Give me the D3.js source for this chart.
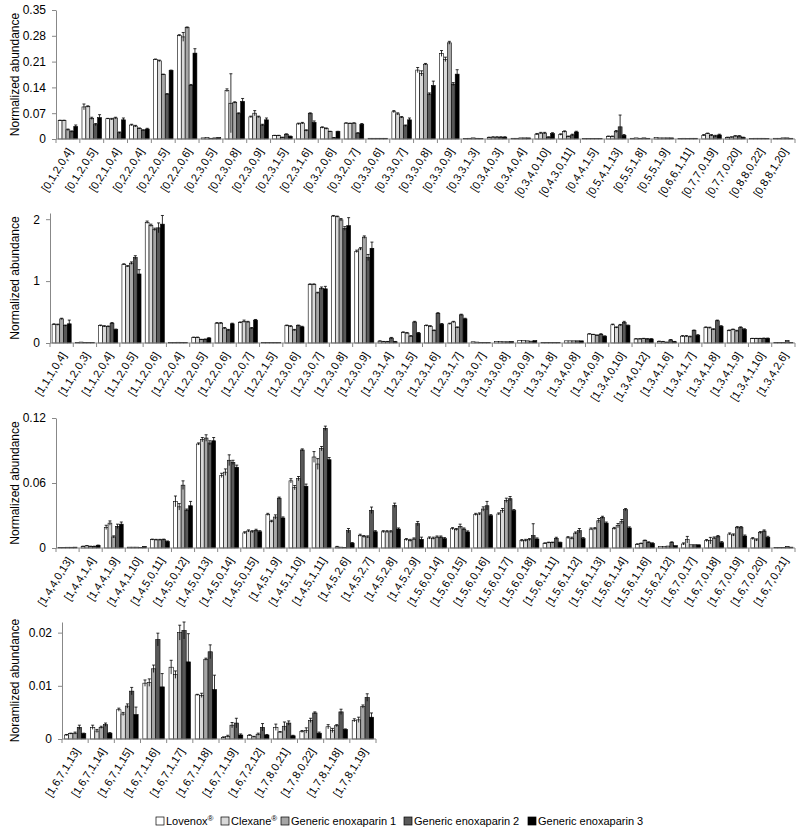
<!DOCTYPE html>
<html lang="en">
<head>
    <meta charset="UTF-8">
    <title>Normalized abundance</title>
    <script src="https://d3js.org/d3.v7.min.js"></script>
    <style>
        body { margin: 0; background: #fff; }
        svg { font-family: Arial, "Liberation Sans", sans-serif; }
        .bar { stroke: #000; stroke-width: 0.6; }
        .err { stroke: #000; stroke-width: 0.8; }
        .axis path, .axis line { stroke: #888; }
        .axis text { font-size: 12px; fill: #000; }
        .cat { font-size: 11px; }
        .ytitle { font-size: 12px; }
        .legend text { font-size: 11px; }
    </style>
</head>
<body>
<svg height="833" width="800"></svg>

<script>
    const series = ["Lovenox", "Clexane", "Generic enoxaparin 1", "Generic enoxaparin 2", "Generic enoxaparin 3"];
    const colors = ["#ffffff", "#d9d9d9", "#a6a6a6", "#595959", "#000000"];

    // ---- panel 1 ----
    const p1Labels = ["[0,1,2,0,4]", "[0,1,2,0,5]", "[0,2,1,0,4]", "[0,2,2,0,4]", "[0,2,2,0,5]", "[0,2,2,0,6]",
        "[0,2,3,0,5]", "[0,2,3,0,8]", "[0,2,3,0,9]", "[0,2,3,1,5]", "[0,2,3,1,6]", "[0,3,2,0,6]", "[0,3,2,0,7]",
        "[0,3,3,0,6]", "[0,3,3,0,7]", "[0,3,3,0,8]", "[0,3,3,0,9]", "[0,3,3,1,3]", "[0,3,4,0,3]", "[0,3,4,0,4]",
        "[0,3,4,0,10]", "[0,4,3,0,11]", "[0,4,4,1,5]", "[0,5,4,1,13]", "[0,5,5,1,8]", "[0,5,5,1,9]",
        "[0,6,6,1,11]", "[0,7,7,0,19]", "[0,7,7,0,20]", "[0,8,8,0,22]", "[0,8,8,1,20]"];
    const p1Values = [
        [0.050, 0.050, 0.025, 0.020, 0.034], [0.087, 0.088, 0.056, 0.039, 0.058], [0.055, 0.054, 0.057, 0.017, 0.052],
        [0.038, 0.035, 0.029, 0.024, 0.027], [0.216, 0.212, 0.175, 0.122, 0.186], [0.281, 0.277, 0.302, 0.146, 0.233],
        [0.003, 0.004, 0.002, 0.003, 0.004], [0.132, 0.097, 0.099, 0.069, 0.102], [0.060, 0.070, 0.060, 0.038, 0.052],
        [0.009, 0.009, 0.004, 0.013, 0.007], [0.041, 0.043, 0.023, 0.069, 0.045], [0.031, 0.028, 0.020, 0.003, 0.020],
        [0.043, 0.042, 0.043, 0.016, 0.040], [0.002, 0.002, 0.002, 0.002, 0.002], [0.074, 0.068, 0.059, 0.036, 0.052],
        [0.187, 0.178, 0.203, 0.122, 0.145], [0.232, 0.216, 0.261, 0.149, 0.176], [0.001, 0.002, 0.003, 0.002, 0.001],
        [0.004, 0.005, 0.005, 0.005, 0.005], [0.002, 0.002, 0.003, 0.003, 0.003], [0.013, 0.016, 0.016, 0.005, 0.015],
        [0.012, 0.020, 0.007, 0.011, 0.019], [0.001, 0.001, 0.001, 0.001, 0.001], [0.007, 0.007, 0.020, 0.033, 0.010],
        [0.002, 0.003, 0.002, 0.003, 0.002], [0.004, 0.003, 0.003, 0.003, 0.003], [0.001, 0.002, 0.001, 0.002, 0.002],
        [0.010, 0.015, 0.010, 0.008, 0.011], [0.004, 0.005, 0.008, 0.008, 0.004], [0.001, 0.002, 0.002, 0.002, 0.001],
        [0.002, 0.002, 0.003, 0.003, 0.002]];
    const p1Errors = [
        [0.001, 0.001, 0.002, 0.002, 0.004], [0.008, 0.002, 0.003, 0.003, 0.008], [0.001, 0.002, 0.002, 0.002, 0.005],
        [0.002, 0.002, 0.001, 0.001, 0.002], [0.001, 0.002, 0.001, 0.001, 0.001], [0.002, 0.012, 0.002, 0.002, 0.012],
        [0, 0, 0, 0, 0], [0.004, 0.080, 0.002, 0.002, 0.008], [0.002, 0.007, 0.002, 0.002, 0.005],
        [0.001, 0.001, 0.001, 0.001, 0.001], [0.002, 0.002, 0.002, 0.002, 0.004], [0.002, 0.002, 0.001, 0.001, 0.001],
        [0.001, 0.001, 0.001, 0.001, 0.002], [0, 0, 0, 0, 0], [0.003, 0.003, 0.002, 0.002, 0.005],
        [0.007, 0.007, 0.002, 0.003, 0.012], [0.008, 0.006, 0.004, 0.004, 0.012], [0, 0, 0, 0, 0],
        [0.001, 0.001, 0.001, 0.001, 0.001], [0, 0, 0, 0, 0], [0.002, 0.002, 0.002, 0.001, 0.002],
        [0.002, 0.002, 0.001, 0.002, 0.002], [0, 0, 0, 0, 0], [0.001, 0.001, 0.003, 0.032, 0.002],
        [0, 0, 0, 0, 0], [0, 0, 0, 0, 0], [0, 0, 0, 0, 0],
        [0.002, 0.001, 0.002, 0.002, 0.002], [0.001, 0.001, 0.001, 0.001, 0.001], [0, 0, 0, 0, 0], [0, 0, 0, 0, 0]];
    const p1Ticks = [0, 0.07, 0.14, 0.21, 0.28, 0.35];

    // ---- panel 2 ----
    const p2Labels = ["[1,1,1,0,4]", "[1,1,2,0,3]", "[1,1,2,0,4]", "[1,1,2,0,5]", "[1,1,2,0,6]", "[1,2,2,0,4]",
        "[1,2,2,0,5]", "[1,2,2,0,6]", "[1,2,2,0,7]", "[1,2,2,1,5]", "[1,2,3,0,6]", "[1,2,3,0,7]", "[1,2,3,0,8]",
        "[1,2,3,0,9]", "[1,2,3,1,4]", "[1,2,3,1,5]", "[1,2,3,1,6]", "[1,2,3,1,7]", "[1,3,3,0,7]", "[1,3,3,0,8]",
        "[1,3,3,0,9]", "[1,3,3,1,8]", "[1,3,4,0,8]", "[1,3,4,0,9]", "[1,3,4,0,10]", "[1,3,4,0,12]", "[1,3,4,1,6]",
        "[1,3,4,1,7]", "[1,3,4,1,8]", "[1,3,4,1,9]", "[1,3,4,1,10]", "[1,3,4,2,6]"];
    const p2Values = [
        [0.30, 0.295, 0.39, 0.28, 0.31], [0.01, 0.015, 0.01, 0.005, 0.005], [0.28, 0.27, 0.265, 0.32, 0.215],
        [1.27, 1.24, 1.29, 1.38, 1.115], [1.95, 1.90, 1.835, 1.86, 1.92], [0.005, 0.005, 0.012, 0.01, 0.005],
        [0.09, 0.09, 0.055, 0.06, 0.08], [0.32, 0.32, 0.24, 0.21, 0.31], [0.33, 0.35, 0.34, 0.24, 0.37],
        [0.005, 0.005, 0.005, 0.005, 0.005], [0.28, 0.27, 0.21, 0.28, 0.26], [0.945, 0.945, 0.81, 0.885, 0.875],
        [2.05, 2.04, 1.99, 1.85, 1.895], [1.48, 1.52, 1.71, 1.38, 1.53], [0.03, 0.02, 0.02, 0.08, 0.02],
        [0.17, 0.16, 0.11, 0.34, 0.16], [0.28, 0.27, 0.20, 0.48, 0.305], [0.31, 0.34, 0.25, 0.455, 0.39],
        [0.02, 0.015, 0.01, 0.01, 0.01], [0.025, 0.025, 0.02, 0.02, 0.025], [0.04, 0.04, 0.035, 0.03, 0.04],
        [0.01, 0.01, 0.01, 0.01, 0.01], [0.035, 0.035, 0.035, 0.035, 0.035], [0.145, 0.135, 0.125, 0.14, 0.11],
        [0.295, 0.25, 0.29, 0.33, 0.28], [0.065, 0.065, 0.07, 0.065, 0.065], [0.025, 0.02, 0.01, 0.05, 0.02],
        [0.11, 0.11, 0.10, 0.20, 0.125], [0.25, 0.245, 0.22, 0.36, 0.27], [0.20, 0.215, 0.195, 0.25, 0.22],
        [0.07, 0.07, 0.07, 0.075, 0.075], [0.005, 0.005, 0.005, 0.04, 0.01]];
    const p2Errors = [
        [0.01, 0.01, 0.01, 0.01, 0.06], [0, 0, 0, 0, 0], [0.01, 0.01, 0.01, 0.01, 0.01],
        [0.01, 0.01, 0.02, 0.03, 0.07], [0.02, 0.02, 0.02, 0.08, 0.14], [0, 0, 0, 0, 0],
        [0.005, 0.005, 0.005, 0.005, 0.005], [0.01, 0.01, 0.01, 0.01, 0.01], [0.01, 0.02, 0.01, 0.01, 0.01],
        [0, 0, 0, 0, 0], [0.01, 0.01, 0.01, 0.01, 0.01], [0.01, 0.01, 0.01, 0.02, 0.04],
        [0.01, 0.01, 0.02, 0.03, 0.13], [0.02, 0.02, 0.02, 0.05, 0.1], [0.005, 0.005, 0.005, 0.01, 0.005],
        [0.01, 0.01, 0.01, 0.01, 0.01], [0.01, 0.01, 0.01, 0.01, 0.01], [0.01, 0.01, 0.01, 0.01, 0.01],
        [0, 0, 0, 0, 0], [0, 0, 0, 0, 0], [0, 0, 0, 0, 0], [0, 0, 0, 0, 0], [0, 0, 0, 0, 0],
        [0.005, 0.005, 0.005, 0.01, 0.005], [0.01, 0.01, 0.01, 0.02, 0.01], [0.005, 0.005, 0.005, 0.005, 0.005],
        [0.005, 0.005, 0.005, 0.005, 0.005], [0.01, 0.01, 0.01, 0.01, 0.01], [0.01, 0.01, 0.01, 0.01, 0.01],
        [0.01, 0.01, 0.01, 0.01, 0.01], [0.005, 0.005, 0.005, 0.005, 0.005], [0, 0, 0, 0, 0]];
    const p2Ticks = [0, 1, 2];

    // ---- panel 3 ----
    const p3Labels = ["[1,4,4,0,13]", "[1,4,4,1,4]", "[1,4,4,1,9]", "[1,4,4,1,10]", "[1,4,5,0,11]", "[1,4,5,0,12]",
        "[1,4,5,0,13]", "[1,4,5,0,14]", "[1,4,5,0,15]", "[1,4,5,1,9]", "[1,4,5,1,10]", "[1,4,5,1,11]", "[1,4,5,2,6]",
        "[1,4,5,2,7]", "[1,4,5,2,8]", "[1,4,5,2,9]", "[1,5,6,0,14]", "[1,5,6,0,15]", "[1,5,6,0,16]", "[1,5,6,0,17]",
        "[1,5,6,0,18]", "[1,5,6,1,11]", "[1,5,6,1,12]", "[1,5,6,1,13]", "[1,5,6,1,14]", "[1,5,6,1,16]",
        "[1,5,6,2,12]", "[1,6,7,0,17]", "[1,6,7,0,18]", "[1,6,7,0,19]", "[1,6,7,0,20]", "[1,6,7,0,21]"];
    const p3Values = [
        [0.0005, 0.0005, 0.0007, 0.0007, 0.0008], [0.0015, 0.002, 0.0015, 0.0015, 0.0025],
        [0.019, 0.023, 0.0102, 0.020, 0.022], [0.0008, 0.0008, 0.0008, 0.0006, 0.0015],
        [0.0077, 0.0075, 0.0075, 0.0077, 0.006], [0.043, 0.038, 0.058, 0.035, 0.039],
        [0.096, 0.100, 0.1015, 0.097, 0.099], [0.067, 0.070, 0.081, 0.079, 0.0745],
        [0.014, 0.0157, 0.015, 0.0163, 0.015], [0.031, 0.0246, 0.0286, 0.046, 0.0277],
        [0.062, 0.0557, 0.064, 0.0905, 0.057], [0.084, 0.0775, 0.0917, 0.1105, 0.0815],
        [0.001, 0.0008, 0.0006, 0.016, 0.0045], [0.0117, 0.0105, 0.0102, 0.0348, 0.015],
        [0.015, 0.015, 0.015, 0.0394, 0.0175], [0.0077, 0.007, 0.0083, 0.0225, 0.008],
        [0.0092, 0.009, 0.0101, 0.0101, 0.0086], [0.0178, 0.017, 0.020, 0.0175, 0.0148],
        [0.031, 0.0314, 0.036, 0.039, 0.0298], [0.0314, 0.0345, 0.044, 0.0455, 0.0345],
        [0.0068, 0.007, 0.0077, 0.0114, 0.0083], [0.0043, 0.0049, 0.0049, 0.0089, 0.0049],
        [0.0095, 0.009, 0.0138, 0.016, 0.0086], [0.0175, 0.0178, 0.0252, 0.0283, 0.023],
        [0.018, 0.0206, 0.0243, 0.0354, 0.0185], [0.0034, 0.004, 0.0068, 0.0052, 0.0043],
        [0.0015, 0.0015, 0.0018, 0.0052, 0.0022], [0.0037, 0.0077, 0.003, 0.003, 0.003],
        [0.0068, 0.0068, 0.0092, 0.0105, 0.0049], [0.0129, 0.012, 0.0188, 0.0188, 0.011],
        [0.0086, 0.0074, 0.0142, 0.0157, 0.0098], [0.0003, 0.0003, 0.0005, 0.0015, 0.0008]];
    const p3Errors = [
        [0, 0, 0, 0, 0], [0.0002, 0.0002, 0.0002, 0.0002, 0.0002], [0.002, 0.002, 0.001, 0.002, 0.002],
        [0, 0, 0, 0, 0], [0.0005, 0.0005, 0.0005, 0.0005, 0.0005], [0.005, 0.003, 0.004, 0.001, 0.004],
        [0.001, 0.002, 0.003, 0.002, 0.003], [0.002, 0.003, 0.005, 0.002, 0.002], [0.001, 0.001, 0.001, 0.001, 0.001],
        [0.001, 0.001, 0.002, 0.001, 0.001], [0.002, 0.002, 0.002, 0.001, 0.002], [0.005, 0.005, 0.002, 0.002, 0.002],
        [0.0005, 0, 0, 0.002, 0.0005], [0.001, 0.001, 0.001, 0.003, 0.001], [0.001, 0.001, 0.001, 0.002, 0.001],
        [0.001, 0.001, 0.001, 0.002, 0.002], [0.001, 0.001, 0.001, 0.001, 0.001], [0.001, 0.001, 0.002, 0.001, 0.001],
        [0.001, 0.001, 0.002, 0.004, 0.001], [0.001, 0.002, 0.002, 0.002, 0.001], [0.001, 0.001, 0.001, 0.011, 0.001],
        [0.0005, 0.0005, 0.0005, 0.001, 0.0005], [0.001, 0.001, 0.001, 0.002, 0.001], [0.001, 0.001, 0.002, 0.001, 0.001],
        [0.001, 0.002, 0.002, 0.001, 0.001], [0.0005, 0.0005, 0.0005, 0.0005, 0.0005], [0, 0, 0, 0.0005, 0],
        [0.001, 0.003, 0, 0, 0], [0.001, 0.003, 0.001, 0.001, 0.001], [0.001, 0.001, 0.001, 0.001, 0.001],
        [0.001, 0.001, 0.001, 0.001, 0.001], [0, 0, 0, 0, 0]];
    const p3Ticks = [0, 0.06, 0.12];

    // ---- panel 4 ----
    const p4Labels = ["[1,6,7,1,13]", "[1,6,7,1,14]", "[1,6,7,1,15]", "[1,6,7,1,16]", "[1,6,7,1,17]", "[1,6,7,1,18]",
        "[1,6,7,1,19]", "[1,6,7,2,12]", "[1,7,8,0,21]", "[1,7,8,0,22]", "[1,7,8,1,18]", "[1,7,8,1,19]"];
    const p4Values = [
        [0.00075, 0.001, 0.0011, 0.0022, 0.001], [0.0022, 0.0015, 0.0022, 0.0027, 0.0011],
        [0.0055, 0.0047, 0.0062, 0.009, 0.0046], [0.0105, 0.0106, 0.0132, 0.0187, 0.0098],
        [0.0135, 0.0121, 0.0200, 0.0204, 0.0145], [0.0083, 0.0082, 0.0150, 0.0164, 0.0093],
        [0.0003, 0.0005, 0.0026, 0.0030, 0.00075], [0.0007, 0.0004, 0.0009, 0.0022, 0.00075],
        [0.0022, 0.0013, 0.0024, 0.0030, 0.0006], [0.0014, 0.0016, 0.0035, 0.0049, 0.0011],
        [0.0023, 0.0016, 0.0025, 0.0051, 0.0018], [0.0035, 0.0036, 0.0061, 0.0078, 0.0041]];
    const p4Errors = [
        [0.0001, 0.0001, 0.0002, 0.0004, 0.0001], [0.0004, 0.0003, 0.0002, 0.0003, 0.0001],
        [0.0003, 0.0003, 0.0004, 0.0007, 0.0014], [0.0006, 0.0007, 0.0007, 0.0012, 0.0025],
        [0.0013, 0.0007, 0.0014, 0.0016, 0.0053], [0.0001, 0.0004, 0.0002, 0.0013, 0.0027],
        [0.0001, 0.0002, 0.0005, 0.0009, 0.0002], [0.0001, 0.0001, 0.0002, 0.0007, 0.0001],
        [0.0006, 0.0001, 0.0008, 0.0004, 0.0001], [0.0002, 0.0005, 0.0004, 0.0002, 0.0002],
        [0.0004, 0.0004, 0.0002, 0.0005, 0.0001], [0.0003, 0.0005, 0.0003, 0.0007, 0.0008]];
    const p4Ticks = [0, 0.01, 0.02];

    const svg = d3.select("svg");
    svg.append("rect").attr("width", 800).attr("height", 833).attr("fill", "#fff");

    const panels = [
        {labels: p1Labels, values: p1Values, errors: p1Errors, ticks: p1Ticks, max: 0.35,
            left: 56, right: 795, top: 10, bottom: 139, title: "Normalized abundance"},
        {labels: p2Labels, values: p2Values, errors: p2Errors, ticks: p2Ticks, max: 2.1,
            left: 50, right: 795, top: 213, bottom: 343, title: "Normalized abundance"},
        {labels: p3Labels, values: p3Values, errors: p3Errors, ticks: p3Ticks, max: 0.12,
            left: 56, right: 795, top: 418, bottom: 548, title: "Normalized abundance"},
        {labels: p4Labels, values: p4Values, errors: p4Errors, ticks: p4Ticks, max: 0.022,
            left: 62, right: 376, top: 622, bottom: 739, title: "Noramlized abundance"}
    ];

    panels.forEach(drawPanel);

    function drawPanel(p) {
        const g = svg.append("g");
        const x = d3.scaleBand().domain(p.labels).range([p.left, p.right]).padding(0);
        const bw = x.bandwidth();
        const xs = d3.scaleBand().domain(d3.range(series.length)).range([bw * 0.09, bw * 0.91]).padding(0);
        const y = d3.scaleLinear().domain([0, p.max]).range([p.bottom, p.top]);

        // y axis
        const yAxis = g.append("g").attr("class", "axis")
            .attr("transform", `translate(${p.left},0)`)
            .call(d3.axisLeft(y).tickValues(p.ticks).tickSize(4).tickSizeOuter(0).tickPadding(6)
                .tickFormat(d => String(d)));

        // bars
        const cats = g.selectAll(".catg")
            .data(p.labels)
            .enter().append("g")
            .attr("transform", d => `translate(${x(d)},0)`);

        cats.each(function(label, ci) {
            const cg = d3.select(this);
            const rows = series.map((s, si) => ({si: si, v: p.values[ci][si], e: p.errors[ci][si]}));
            cg.selectAll("rect")
                .data(rows)
                .enter().append("rect")
                .attr("class", "bar")
                .attr("x", d => xs(d.si))
                .attr("width", xs.bandwidth())
                .attr("y", d => y(d.v))
                .attr("height", d => y(0) - y(d.v))
                .attr("fill", d => colors[d.si]);

            const eb = cg.selectAll(".eb")
                .data(rows.filter(d => d.e > 0))
                .enter().append("g").attr("class", "eb");
            const cx = d => xs(d.si) + xs.bandwidth() / 2;
            eb.append("line").attr("class", "err")
                .attr("x1", cx).attr("x2", cx)
                .attr("y1", d => y(Math.max(0, d.v - d.e))).attr("y2", d => y(d.v + d.e));
            eb.append("line").attr("class", "err")
                .attr("x1", d => cx(d) - 1.5).attr("x2", d => cx(d) + 1.5)
                .attr("y1", d => y(d.v + d.e)).attr("y2", d => y(d.v + d.e));
        });

        // x axis: baseline with ticks at category boundaries
        const xa = g.append("g").attr("class", "axis");
        xa.append("line")
            .attr("x1", p.left).attr("x2", p.right)
            .attr("y1", y(0)).attr("y2", y(0));
        const bounds = p.labels.map(d => x(d)).concat([p.right]);
        xa.selectAll(".xt")
            .data(bounds)
            .enter().append("line")
            .attr("x1", d => d).attr("x2", d => d)
            .attr("y1", y(0)).attr("y2", y(0) + 4);

        g.selectAll(".cat")
            .data(p.labels)
            .enter().append("text")
            .attr("class", "cat")
            .attr("text-anchor", "end")
            .attr("dy", "0.35em")
            .attr("transform", d => `translate(${x(d) + bw / 2 + 2},${y(0) + 10}) rotate(-58)`)
            .text(d => d);

        g.append("text")
            .attr("class", "ytitle")
            .attr("text-anchor", "middle")
            .attr("transform", `translate(19,${(p.top + p.bottom) / 2}) rotate(-90)`)
            .text(p.title);
    }

    // legend
    const legendX = [156, 221, 281, 404, 528];
    const legendNames = ["Lovenox", "Clexane", "Generic enoxaparin 1", "Generic enoxaparin 2", "Generic enoxaparin 3"];
    const legendSup = ["®", "®", "", "", ""];
    const lg = svg.append("g").attr("class", "legend");
    const items = lg.selectAll("g")
        .data(legendNames)
        .enter().append("g")
        .attr("transform", (d, i) => `translate(${legendX[i]},821)`);
    items.append("rect")
        .attr("x", 0).attr("y", -4).attr("width", 8).attr("height", 8)
        .attr("fill", (d, i) => colors[i])
        .attr("stroke", "#000").attr("stroke-width", 0.7);
    const t = items.append("text")
        .attr("x", 10).attr("dy", "0.35em")
        .text(d => d);
    t.append("tspan")
        .attr("dy", "-0.5em")
        .attr("font-size", "8px")
        .text((d, i) => legendSup[i]);
</script>

</body>
</html>
